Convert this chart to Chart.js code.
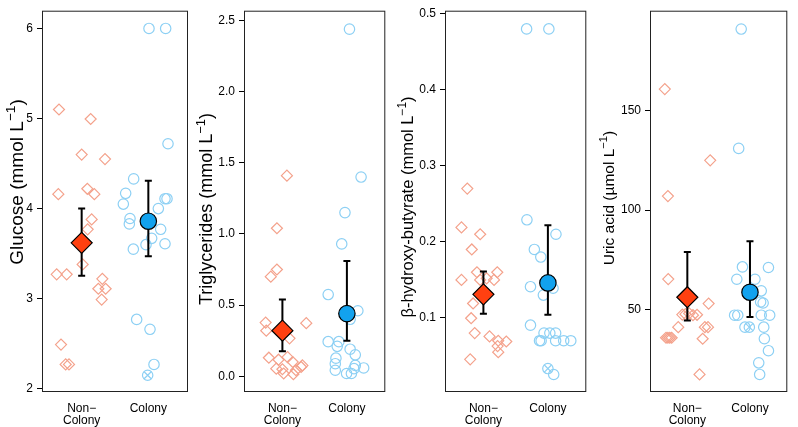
<!DOCTYPE html>
<html><head><meta charset="utf-8">
<script src="https://cdn.jsdelivr.net/npm/chart.js@4.4.1/dist/chart.umd.min.js"></script>
<style>
html,body{margin:0;padding:0;background:#fff;}
#wrap{position:relative;width:798px;height:427px;overflow:hidden;background:#fff;}
canvas{position:absolute;top:0;}
</style></head><body>
<div id="wrap">
<canvas id="c0" width="204" height="427" style="left:0px"></canvas>
<canvas id="c1" width="204" height="427" style="left:192px"></canvas>
<canvas id="c2" width="204" height="427" style="left:393px"></canvas>
<canvas id="c3" width="204" height="427" style="left:594px"></canvas>
</div>
<script>
// ---- categories ----
const categories = ["Non−Colony", "Colony"];
const xTickLabels = [["Non−", "Colony"], "Colony"];
const catPos = [1, 2];

// ---- Glucose (mmol/L) ----
const glucoseNonX = [0.66,1.135,1.0,1.35,0.65,1.085,1.19,1.15,1.09,1.015,0.625,0.775,1.31,1.25,1.36,1.30,0.69,0.76,0.81];
const glucoseNonY = [5.10,4.995,4.60,4.55,4.16,4.22,4.16,3.88,3.77,3.38,3.27,3.27,3.22,3.11,3.11,2.99,2.49,2.27,2.27];
const glucoseColX = [2.01,2.26,2.295,1.78,1.66,2.25,2.28,1.625,2.15,1.725,1.715,2.185,2.05,1.965,2.25,1.775,1.825,2.025,2.085,1.99];
const glucoseColY = [6.0,6.0,4.72,4.33,4.17,4.11,4.11,4.05,4.0,3.89,3.83,3.77,3.67,3.60,3.61,3.55,2.77,2.66,2.27,2.15];
const glucoseCrossX = [1.99];
const glucoseCrossY = [2.15];
const glucoseMean = [3.62, 3.86];
const glucoseLow = [3.255, 3.47];
const glucoseHigh = [4.0, 4.31];
const glucoseTicks = [2, 3, 4, 5, 6];
const glucoseTickLabels = ["2", "3", "4", "5", "6"];
const glucoseTitle = ["Glucose (mmol L", "−1", ")"];

// ---- Triglycerides (mmol/L) ----
const trigNonX = [1.07,0.915,0.915,0.82,0.74,0.75,1.37,1.11,0.79,0.94,1.08,1.16,0.905,1.0,1.02,1.17,1.21,1.29,1.31];
const trigNonY = [1.41,1.04,0.75,0.70,0.377,0.32,0.373,0.266,0.13,0.116,0.134,0.10,0.053,0.049,0.019,0.014,0.042,0.065,0.076];
const trigColX = [2.04,2.22,1.97,1.92,1.71,2.17,2.05,1.71,1.875,1.85,2.05,2.13,1.83,1.82,1.82,2.13,2.11,2.26,1.995,2.07];
const trigColY = [2.44,1.40,1.15,0.93,0.574,0.46,0.40,0.243,0.243,0.21,0.19,0.15,0.127,0.088,0.042,0.076,0.053,0.058,0.019,0.019];
const trigCrossX = [];
const trigCrossY = [];
const trigMean = [0.32, 0.44];
const trigLow = [0.176, 0.25];
const trigHigh = [0.54, 0.81];
const trigTicks = [0, 0.5, 1.0, 1.5, 2.0, 2.5];
const trigTickLabels = ["0.0", "0.5", "1.0", "1.5", "2.0", "2.5"];
const trigTitle = ["Triglycerides (mmol L", "−1", ")"];

// ---- beta-hydroxy-butyrate (mmol/L) ----
const bhbNonX = [0.75,0.66,0.95,0.82,0.66,0.90,1.215,0.95,1.05,1.165,0.84,0.81,0.865,1.095,1.23,1.355,1.22,1.23,0.795];
const bhbNonY = [0.270,0.219,0.21,0.19,0.150,0.160,0.160,0.150,0.152,0.150,0.119,0.0996,0.080,0.0757,0.070,0.069,0.063,0.055,0.0455];
const bhbColX = [1.67,2.015,1.675,2.125,1.79,1.89,1.73,2.08,1.93,1.73,1.94,2.03,2.12,1.87,1.895,2.12,2.245,2.355,2.0,2.09];
const bhbColY = [0.480,0.480,0.229,0.210,0.190,0.180,0.141,0.139,0.130,0.0905,0.080,0.080,0.080,0.070,0.070,0.070,0.070,0.070,0.0334,0.0256];
const bhbCrossX = [2.0];
const bhbCrossY = [0.0334];
const bhbMean = [0.131, 0.146];
const bhbLow = [0.1056, 0.104];
const bhbHigh = [0.161, 0.2217];
const bhbTicks = [0.1, 0.2, 0.3, 0.4, 0.5];
const bhbTickLabels = ["0.1", "0.2", "0.3", "0.4", "0.5"];
const bhbTitle = ["β-hydroxy-butyrate (mmol L", "−1", ")"];

// ---- Uric acid (umol/L) ----
const uricNonX = [0.64,1.365,0.69,0.695,1.34,0.92,0.97,1.03,1.09,1.155,0.855,1.28,1.33,0.66,0.69,0.72,0.75,1.245,1.195];
const uricNonY = [160.6,124.9,107.0,65.4,53.1,47.6,47.8,48.2,47.3,47.5,41.3,41.3,41.3,36.0,36.0,36.0,36.0,35.5,17.6];
const uricColX = [1.86,1.82,1.88,2.295,1.79,2.08,2.18,2.17,2.21,1.755,1.805,2.18,2.315,1.92,1.99,2.22,2.23,2.295,2.14,2.155];
const uricColY = [190.7,130.9,71.5,71.2,65.3,65.3,59.5,53.9,53.4,47.3,47.3,47.3,47.3,41.3,41.3,41.3,35.5,29.5,23.4,17.6];
const uricCrossX = [1.99];
const uricCrossY = [41.3];
const uricMean = [56.3, 58.8];
const uricLow = [44.65, 46.4];
const uricHigh = [79.0, 84.3];
const uricTicks = [50, 100, 150];
const uricTickLabels = ["50", "100", "150"];
const uricTitle = ["Uric acid (µmol L", "−1", ")"];

// ---- styling ----
const FONT = "'Liberation Sans', Arial, Helvetica, sans-serif";
const salmon = "#F4A28C";
const sky = "#8DD0F4";
const redFill = "#FF4010";
const blueFill = "#12A2EE";
Chart.defaults.font.family = FONT;
Chart.defaults.color = "#000";

const panels = [
  {id:"c0", title:glucoseTitle, nonX:glucoseNonX, nonY:glucoseNonY, colX:glucoseColX, colY:glucoseColY,
   crossX:glucoseCrossX, crossY:glucoseCrossY, mean:glucoseMean, low:glucoseLow, high:glucoseHigh,
   ticks:glucoseTicks, tickLabels:glucoseTickLabels, yMin:1.975, yMax:6.186, left:43, padRight:17,
   titleX:16, titleY:182, titleSize:19},
  {id:"c1", title:trigTitle, nonX:trigNonX, nonY:trigNonY, colX:trigColX, colY:trigColY,
   crossX:trigCrossX, crossY:trigCrossY, mean:trigMean, low:trigLow, high:trigHigh,
   ticks:trigTicks, tickLabels:trigTickLabels, yMin:-0.104, yMax:2.5625, left:53, padRight:8,
   titleX:14, titleY:209, titleSize:18},
  {id:"c2", title:bhbTitle, nonX:bhbNonX, nonY:bhbNonY, colX:bhbColX, colY:bhbColY,
   crossX:bhbCrossX, crossY:bhbCrossY, mean:bhbMean, low:bhbLow, high:bhbHigh,
   ticks:bhbTicks, tickLabels:bhbTickLabels, yMin:0.0039, yMax:0.5026, left:53, padRight:7,
   titleX:14, titleY:207, titleSize:16.5},
  {id:"c3", title:uricTitle, nonX:uricNonX, nonY:uricNonY, colX:uricColX, colY:uricColY,
   crossX:uricCrossX, crossY:uricCrossY, mean:uricMean, low:uricLow, high:uricHigh,
   ticks:uricTicks, tickLabels:uricTickLabels, yMin:9.3, yMax:199.4, left:57, padRight:3,
   titleX:14, titleY:198, titleSize:15.5}
];

const boxPlugin = {
  id: "box",
  beforeDatasetsDraw(chart) {
    const a = chart.chartArea, c = chart.ctx;
    c.save();
    c.strokeStyle = "#222";
    c.lineWidth = 1;
    c.strokeRect(a.left - 0.5, a.top - 0.5, a.right - a.left + 1, a.bottom - a.top + 1);
    c.restore();
  }
};

// y-axis title with a real superscript (R plotmath style)
const yTitlePlugin = {
  id: "yTitle",
  afterDraw(chart, args, opts) {
    const c = chart.ctx, s = opts.size, parts = opts.text;
    const big = s + "px " + FONT, small = (s * 0.72).toFixed(1) + "px " + FONT;
    c.save();
    c.font = big; const w0 = c.measureText(parts[0]).width, w2 = c.measureText(parts[2]).width;
    c.font = small; const w1 = c.measureText(parts[1]).width;
    const total = w0 + w1 + w2;
    c.translate(opts.x, opts.y);
    c.rotate(-Math.PI / 2);
    c.fillStyle = "#000";
    c.textAlign = "left";
    c.textBaseline = "alphabetic";
    const base = 0.36 * s;
    let x = -total / 2;
    c.font = big; c.fillText(parts[0], x, base); x += w0;
    c.font = small; c.fillText(parts[1], x, base - 0.42 * s); x += w1;
    c.font = big; c.fillText(parts[2], x, base);
    c.restore();
  }
};

function pts(xs, ys) { return xs.map((x, i) => ({x: x, y: ys[i]})); }

function makeChart(p) {
  const ds = [
    {data: pts(p.nonX, p.nonY), pointStyle: "rectRot", pointRadius: 5.5, borderColor: salmon,
     backgroundColor: "rgba(0,0,0,0)", borderWidth: 1.2, order: 5},
    {data: pts(p.colX, p.colY), pointStyle: "circle", pointRadius: 5.2, borderColor: sky,
     backgroundColor: "rgba(0,0,0,0)", borderWidth: 1.2, order: 4},
    {data: pts(p.crossX, p.crossY), pointStyle: "crossRot", pointRadius: 5, borderColor: sky,
     backgroundColor: "rgba(0,0,0,0)", borderWidth: 1.2, order: 4}
  ];
  catPos.forEach((cx, i) => {
    ds.push({type: "line", showLine: true, fill: false, tension: 0,
      data: [{x: cx, y: p.low[i]}, {x: cx, y: p.high[i]}],
      borderColor: "#000", borderWidth: 2, pointStyle: "line", pointRadius: 3.5,
      pointBorderWidth: 2, pointBorderColor: "#000", order: 2});
  });
  ds.push({data: [{x: catPos[0], y: p.mean[0]}], pointStyle: "rectRot", pointRadius: 10.5,
    backgroundColor: redFill, borderColor: "#000", borderWidth: 1.2, order: 1});
  ds.push({data: [{x: catPos[1], y: p.mean[1]}], pointStyle: "circle", pointRadius: 8.2,
    backgroundColor: blueFill, borderColor: "#000", borderWidth: 1.2, order: 0});

  new Chart(document.getElementById(p.id), {
    type: "scatter",
    data: {datasets: ds},
    options: {
      responsive: false, animation: false, devicePixelRatio: 1,
      layout: {padding: {top: 7, right: p.padRight, bottom: 0, left: 0}},
      plugins: {legend: {display: false}, tooltip: {enabled: false},
        yTitle: {text: p.title, x: p.titleX, y: p.titleY, size: p.titleSize}},
      scales: {
        x: {type: "linear", min: 0.42, max: 2.58,
          afterBuildTicks: a => { a.ticks = catPos.map(v => ({value: v})); },
          afterFit: s => { s.height = 36; },
          grid: {display: false, drawTicks: false}, border: {display: false},
          ticks: {padding: 11, color: "#000", font: {size: 12, lineHeight: 1.05}, maxRotation: 0, autoSkip: false,
            callback: v => xTickLabels[catPos.indexOf(v)]}},
        y: {type: "linear", min: p.yMin, max: p.yMax,
          afterBuildTicks: a => { a.ticks = p.ticks.map(v => ({value: v})); },
          afterFit: s => { s.width = p.left; },
          grid: {drawOnChartArea: false, drawTicks: true, tickLength: 6, color: "#000", tickWidth: 1},
          border: {display: false},
          ticks: {padding: 4, color: "#000", font: {size: 12}, autoSkip: false,
            callback: v => p.tickLabels[p.ticks.indexOf(v)]},
          title: {display: false}}
      }
    },
    plugins: [boxPlugin, yTitlePlugin]
  });
}
panels.forEach(makeChart);
</script>
</body></html>
